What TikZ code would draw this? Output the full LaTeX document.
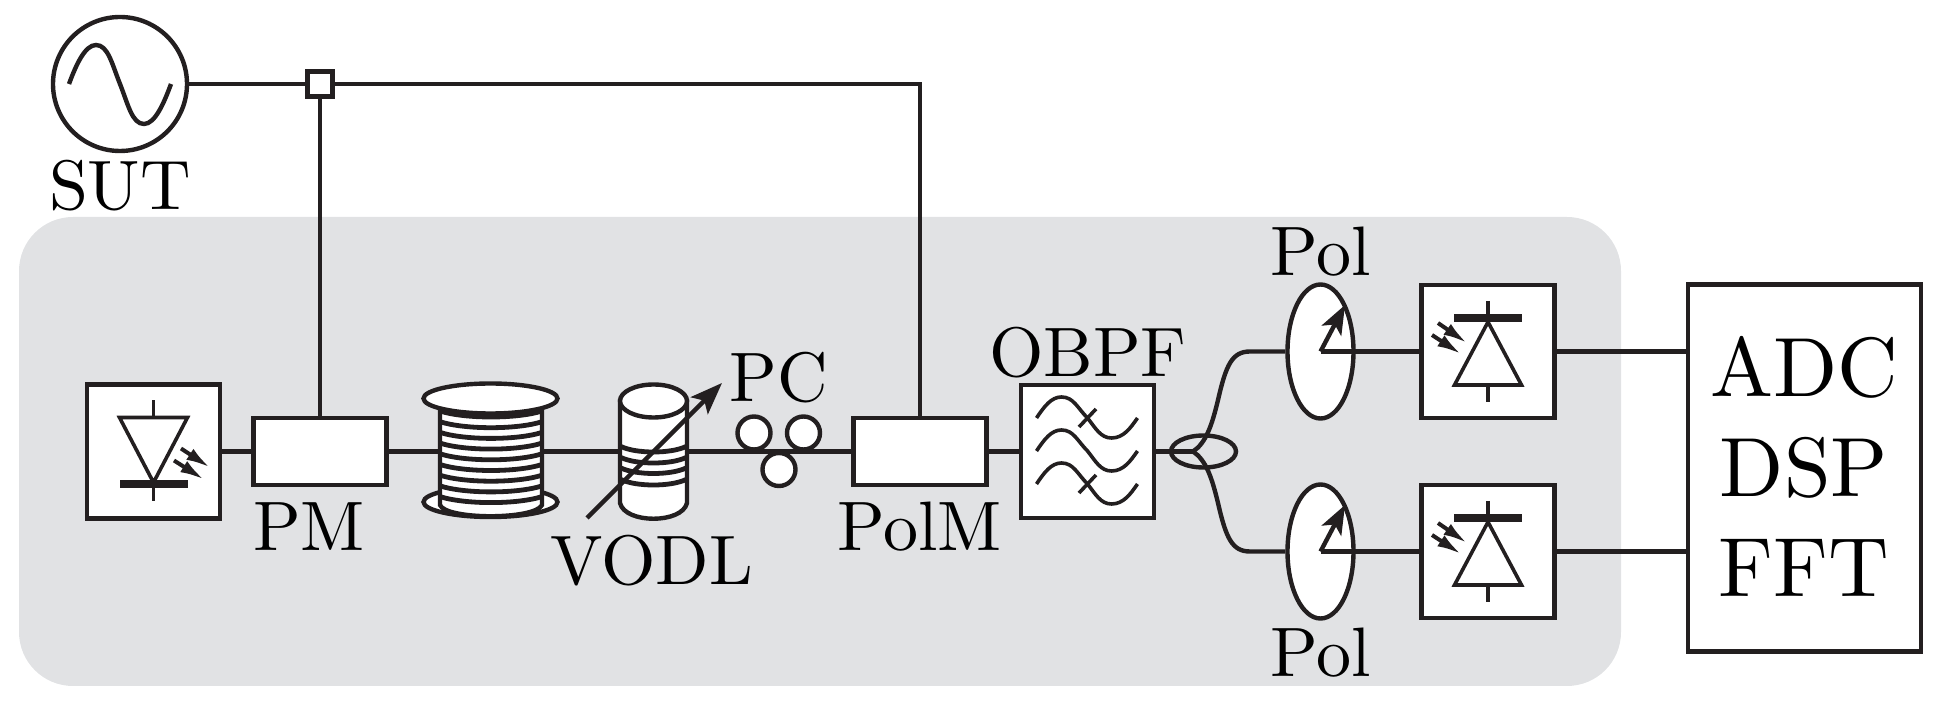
\documentclass[tikz,border=0pt]{standalone}
\usepackage{fontspec}
\setmainfont{lmroman10-regular}[Extension=.otf]
\usetikzlibrary{shapes.geometric,arrows.meta}
\definecolor{ink}{HTML}{231F20}
\definecolor{panel}{HTML}{E1E2E4}
\tikzset{
  x=0.5pt,y=-0.5pt,
  ln/.style={line width=2.2pt,draw=ink,line join=miter},
  thin ln/.style={line width=1.8pt,draw=ink,line join=miter},
  box/.style={rectangle,ln,fill=white,inner sep=0pt,minimum width=#1},
  gap/.style={rectangle,inner sep=0pt,minimum width=#1,minimum height=10pt},
  oval/.style={ellipse,ln,inner sep=0pt},
  lbl/.style={anchor=base,inner sep=0pt,text=black,font=\fontsize{35}{38}\selectfont},
  big lbl/.style={anchor=base,inner sep=0pt,text=black,font=\fontsize{42}{45}\selectfont},
  ray/.style={line width=2pt,draw=ink,fill=ink,-{Latex[length=12pt,width=6.5pt]}},
  pointer/.style={line width=2.2pt,draw=ink,-{Stealth[length=16pt,width=12pt,inset=3.5pt]}},
  pics/detector/.style={code={
    \draw[thin ln,fill=white] (0,-29.5) -- (33.5,33.5) -- (-33.5,33.5) -- cycle;
    \fill[ink] (-34,-37.5) rectangle (34,-29.5);
    \draw[thin ln] (0,-50.5) -- (0,-37) (0,33.5) -- (0,50.5);
    \draw[ray] (-50,-28.5) -- (-21,-8.5);
    \draw[ray] (-56,-16.5) -- (-27,2.5);
  }},
  pics/emitter/.style={code={
    \draw[thin ln,fill=white] (0,31) -- (34,-34) -- (-34,-34) -- cycle;
    \fill[ink] (-34,29) rectangle (34,37);
    \draw[thin ln] (0,-51) -- (0,-34) (0,37) -- (0,50);
    \draw[ray] (27.5,-3) -- (56.5,16);
    \draw[ray] (20.5,9) -- (50.5,28);
  }},
  pics/ripple/.style={code={
    \draw[thin ln] (-51,0) .. controls (-43,-12) and (-36,-21) .. (-26,-21)
      .. controls (-14,-21) and (-10,-10) .. (0,0)
      .. controls (8,10) and (13,20) .. (24,20)
      .. controls (36,20) and (43,10) .. (50,0);
  }}
}
\begin{document}
\begin{tikzpicture}
\useasboundingbox (0,0) rectangle (1939,710);
\fill[panel,rounded corners=27pt] (19,217) rectangle (1621,686);

% --- boxes and parts ---
\node[circle,ln,fill=white,inner sep=0pt,minimum size=67pt] (sut) at (120,84) {};
\draw[ln] (69,84) .. controls (76,65) and (85,45) .. (96,45)
  .. controls (108,45) and (112,64) .. (120,84)
  .. controls (128,104) and (132,124) .. (144,124)
  .. controls (155,124) and (164,103) .. (171,84);
\node[rectangle,draw=ink,line width=2.6pt,fill=white,inner sep=0pt,minimum size=12.5pt] (junc) at (320,84) {};

\node[box=66.5pt,minimum height=67pt] (laser) at (153.5,451.5) {};
\pic at (153.5,451.5) {emitter};
\node[box=66.5pt,minimum height=33.5pt] (pm) at (320,451.5) {};
\node[box=66.5pt,minimum height=33.5pt] (polm) at (920,451.5) {};
\node[box=66.5pt,minimum height=66.5pt] (obpf) at (1087.5,451.5) {};
\pic at (1087.5,418) {ripple};
\pic at (1087.5,451) {ripple};
\pic at (1087.5,484) {ripple};
\draw[thin ln] (1096,409) -- (1079,427);
\draw[thin ln] (1096,475) -- (1079,493);

% fibre spool
\draw[ln,fill=white] (490.5,502) ellipse [x radius=67,y radius=15];
\draw[ln,fill=white] (440,398) -- (440,505) .. controls (446,520) and (535,520) .. (542,505) -- (542,398) -- cycle;
\foreach \v in {411,421.7,432.4,443.1,453.8,464.5,475.2,485.9,496.6}
  \draw[line width=2.4pt,draw=ink] (440,\v) .. controls (465,\v+8) and (517,\v+8) .. (542,\v);
\draw[ln,fill=white] (490.5,398.5) ellipse [x radius=67,y radius=15];
\node[gap=51pt] (spool) at (491,451.5) {};

% delay line
\draw[ln,fill=white] (620,401) -- (620,503) .. controls (625,524) and (682,524) .. (687,503) -- (687,401) -- cycle;
\foreach \v in {446,457,467.5,479}
  \draw[line width=2.4pt,draw=ink] (620,\v) .. controls (635,\v+8) and (672,\v+8) .. (687,\v);
\draw[ln,fill=white] (653.5,401) ellipse [x radius=33.5,y radius=16.5];
\node[gap=33.5pt] (vodl) at (653.5,451.5) {};

% polarisation controller
\node[circle,ln,fill=white,inner sep=0pt,minimum size=16.5pt] (pcl) at (754,433) {};
\node[circle,ln,fill=white,inner sep=0pt,minimum size=16.5pt] (pcr) at (803.5,433) {};
\node[circle,ln,fill=white,inner sep=0pt,minimum size=16.5pt] (pcb) at (779,469.5) {};

% coupler
\node[oval,minimum width=32.5pt,minimum height=16pt] (cpl) at (1203.5,451.5) {};
\coordinate (cj) at (1193,451.5);

% polarisers
\node[oval,fill=white,minimum width=33pt,minimum height=67pt] (pola) at (1320.5,351.5) {};
\node[oval,fill=white,minimum width=33pt,minimum height=67pt] (polb) at (1320.5,551.5) {};
\coordinate (tipa) at (1345,305);
\coordinate (tipb) at (1345,505);

% detectors
\node[box=66.5pt,minimum height=66.5pt] (pda) at (1488,351.5) {};
\node[box=66.5pt,minimum height=66.5pt] (pdb) at (1488,551.5) {};
\pic at (1488,351.5) {detector};
\pic at (1488,551.5) {detector};

\node[box=116.5pt,minimum height=183.5pt] (dsp) at (1804.5,468) {};

% --- connectors ---
\draw[ln] (sut) -- (junc);
\draw[ln] (junc) -- (pm.north);
\draw[ln] (junc) -| (polm.north);
\draw[ln] (laser.east) -- (pm.west);
\draw[ln] (pm.east) -- (spool.west);
\draw[ln] (spool.east) -- (vodl.west);
\draw[ln] (vodl.east) -- (polm.west);
\draw[ln] (polm.east) -- (obpf.west);
\draw[ln] (obpf.east) -- (cj);
\draw[ln,line join=round] (cj) .. controls (1206,443) and (1212,425) .. (1218,400)
  .. controls (1226,365) and (1232,351.5) .. (1250,351.5) -- (pola.west);
\draw[ln,line join=round] (cj) .. controls (1206,460) and (1212,478) .. (1218,503)
  .. controls (1226,538) and (1232,551.5) .. (1250,551.5) -- (polb.west);
\draw[ln] (pola.center) -- (pda.west);
\draw[ln] (polb.center) -- (pdb.west);
\draw[ln] (pda.east) -- (pda.east -| dsp.west);
\draw[ln] (pdb.east) -- (pdb.east -| dsp.west);
\draw[pointer,-{Stealth[length=14.5pt,width=11pt,inset=3.5pt]}] (pola.center) -- (tipa);
\draw[pointer,-{Stealth[length=14.5pt,width=11pt,inset=3.5pt]}] (polb.center) -- (tipb);
\coordinate (vs) at (587,518);
\coordinate (ve) at (722,383);
\draw[pointer] (vs) -- (ve);

% --- labels ---
\node[lbl] (tsut) at (120,210) {SUT};
\node[lbl] (tpm) at (309,551) {PM};
\node[lbl] (tvodl) at (652,585) {VODL};
\node[lbl] (tpc) at (779,402) {PC};
\node[lbl] (tpolm) at (920,551) {PolM};
\node[lbl] (tobpf) at (1088,377) {OBPF};
\node[lbl] (tpa) at (1321,276) {Pol};
\node[lbl] (tpb) at (1321,676) {Pol};
\node[big lbl] (tadc) at (1804,397) {ADC};
\node[big lbl] (tdsp) at (1804,497) {DSP};
\node[big lbl] (tfft) at (1804,597) {FFT};
\end{tikzpicture}
\end{document}
